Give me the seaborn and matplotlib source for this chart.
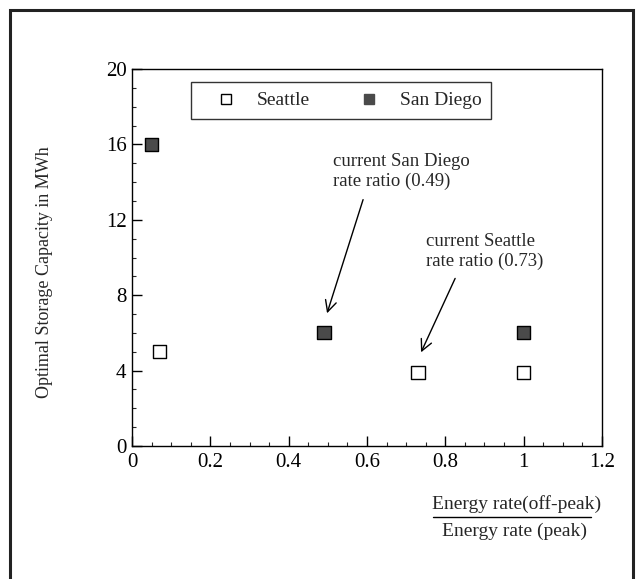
import matplotlib
matplotlib.use("Agg")
import matplotlib.pyplot as plt
import seaborn as sns
import pandas as pd
from matplotlib.lines import Line2D
from matplotlib.patches import Rectangle
from matplotlib.ticker import MultipleLocator

# data
seattle_x = [0.07, 0.73, 1.0]
seattle_y = [5.0, 3.9, 3.9]
sandiego_x = [0.05, 0.49, 1.0]
sandiego_y = [16.0, 6.0, 6.0]
series_names = ["Seattle", "San Diego"]
x_ticks = [0, 0.2, 0.4, 0.6, 0.8, 1.0, 1.2]
x_tick_labels = ["0", "0.2", "0.4", "0.6", "0.8", "1", "1.2"]
y_ticks = [0, 4, 8, 12, 16, 20]

df = pd.DataFrame({
    "x": seattle_x + sandiego_x,
    "y": seattle_y + sandiego_y,
    "city": [series_names[0]] * len(seattle_x) + [series_names[1]] * len(sandiego_x),
})

sns.set_theme(style="white")
plt.rcParams["font.family"] = ["Liberation Serif", "DejaVu Serif"]

W, H = 636, 579
fig = plt.figure(figsize=(6.36, 5.79), dpi=100)
ax = fig.add_axes([132 / W, 1 - 446 / H, 470 / W, (446 - 69) / H])

palette = {"Seattle": "white", "San Diego": "#4a4a4a"}
sns.scatterplot(data=df, x="x", y="y", hue="city", palette=palette, marker="s",
                s=90, edgecolor="black", linewidth=1.0, ax=ax, legend=False, zorder=3)

ax.set_xlim(0, 1.2)
ax.set_ylim(0, 20)
ax.set_xticks(x_ticks)
ax.set_xticklabels(x_tick_labels)
ax.set_yticks(y_ticks)
ax.xaxis.set_minor_locator(MultipleLocator(0.05))
ax.yaxis.set_minor_locator(MultipleLocator(1))
ax.tick_params(axis="both", which="major", direction="in", length=7, width=1,
               labelsize=15, colors="black", bottom=True, left=True)
ax.tick_params(axis="both", which="minor", direction="in", length=3, width=0.8,
               bottom=True, left=True)
ax.tick_params(axis="x", pad=5)
ax.tick_params(axis="y", pad=4)
for sp in ax.spines.values():
    sp.set_color("black")
    sp.set_linewidth(1.0)

ax.set_xlabel("")
ax.set_ylabel("Optimal Storage Capacity in MWh", fontsize=13)
ax.yaxis.set_label_coords(-0.168, 0.46)

# legend
handles = [
    Line2D([], [], linestyle="none", marker="s", markersize=6.5, markerfacecolor="white",
           markeredgecolor="black", label="Seattle"),
    Line2D([], [], linestyle="none", marker="s", markersize=6.5, markerfacecolor="#4a4a4a",
           markeredgecolor="#4a4a4a", label="San Diego"),
]
leg = ax.legend(handles=handles, ncol=2, loc="upper left", bbox_to_anchor=(0.1255, 0.9655),
                frameon=True, fancybox=False, fontsize=14, columnspacing=1.7,
                handlelength=2.6, handletextpad=0.3, borderpad=0.5, borderaxespad=0)
leg.get_frame().set_edgecolor("black")
leg.get_frame().set_linewidth(1.0)

# annotations
arrow = dict(arrowstyle="->", color="black", lw=1.0, shrinkA=0, shrinkB=0, mutation_scale=20)
ax.text(0.513, 15.56, "current San Diego\nrate ratio (0.49)", fontsize=13.5,
        ha="left", va="top", linespacing=1.25)
ax.annotate("", xy=(0.498, 7.04), xytext=(0.590, 13.07), arrowprops=arrow)
ax.text(0.751, 11.32, "current Seattle\nrate ratio (0.73)", fontsize=13.5,
        ha="left", va="top", linespacing=1.25)
ax.annotate("", xy=(0.738, 4.97), xytext=(0.825, 8.89), arrowprops=arrow)

# fraction x label
fig.text(517 / W, 1 - 504 / H, "Energy rate(off-peak)", ha="center", va="center", fontsize=14)
fig.add_artist(Line2D([433 / W, 591 / W], [1 - 517 / H, 1 - 517 / H],
                      color="black", lw=1.0, transform=fig.transFigure))
fig.text(515 / W, 1 - 531 / H, "Energy rate (peak)", ha="center", va="center", fontsize=14)

# outer frame (open at bottom)
fig.add_artist(Rectangle((10 / W, -0.05), (633 - 10) / W, 1.05 - 9.5 / H,
                         transform=fig.transFigure, fill=False, edgecolor="#222222", lw=2.2))

fig.savefig("out.png", dpi=100, facecolor="white")
